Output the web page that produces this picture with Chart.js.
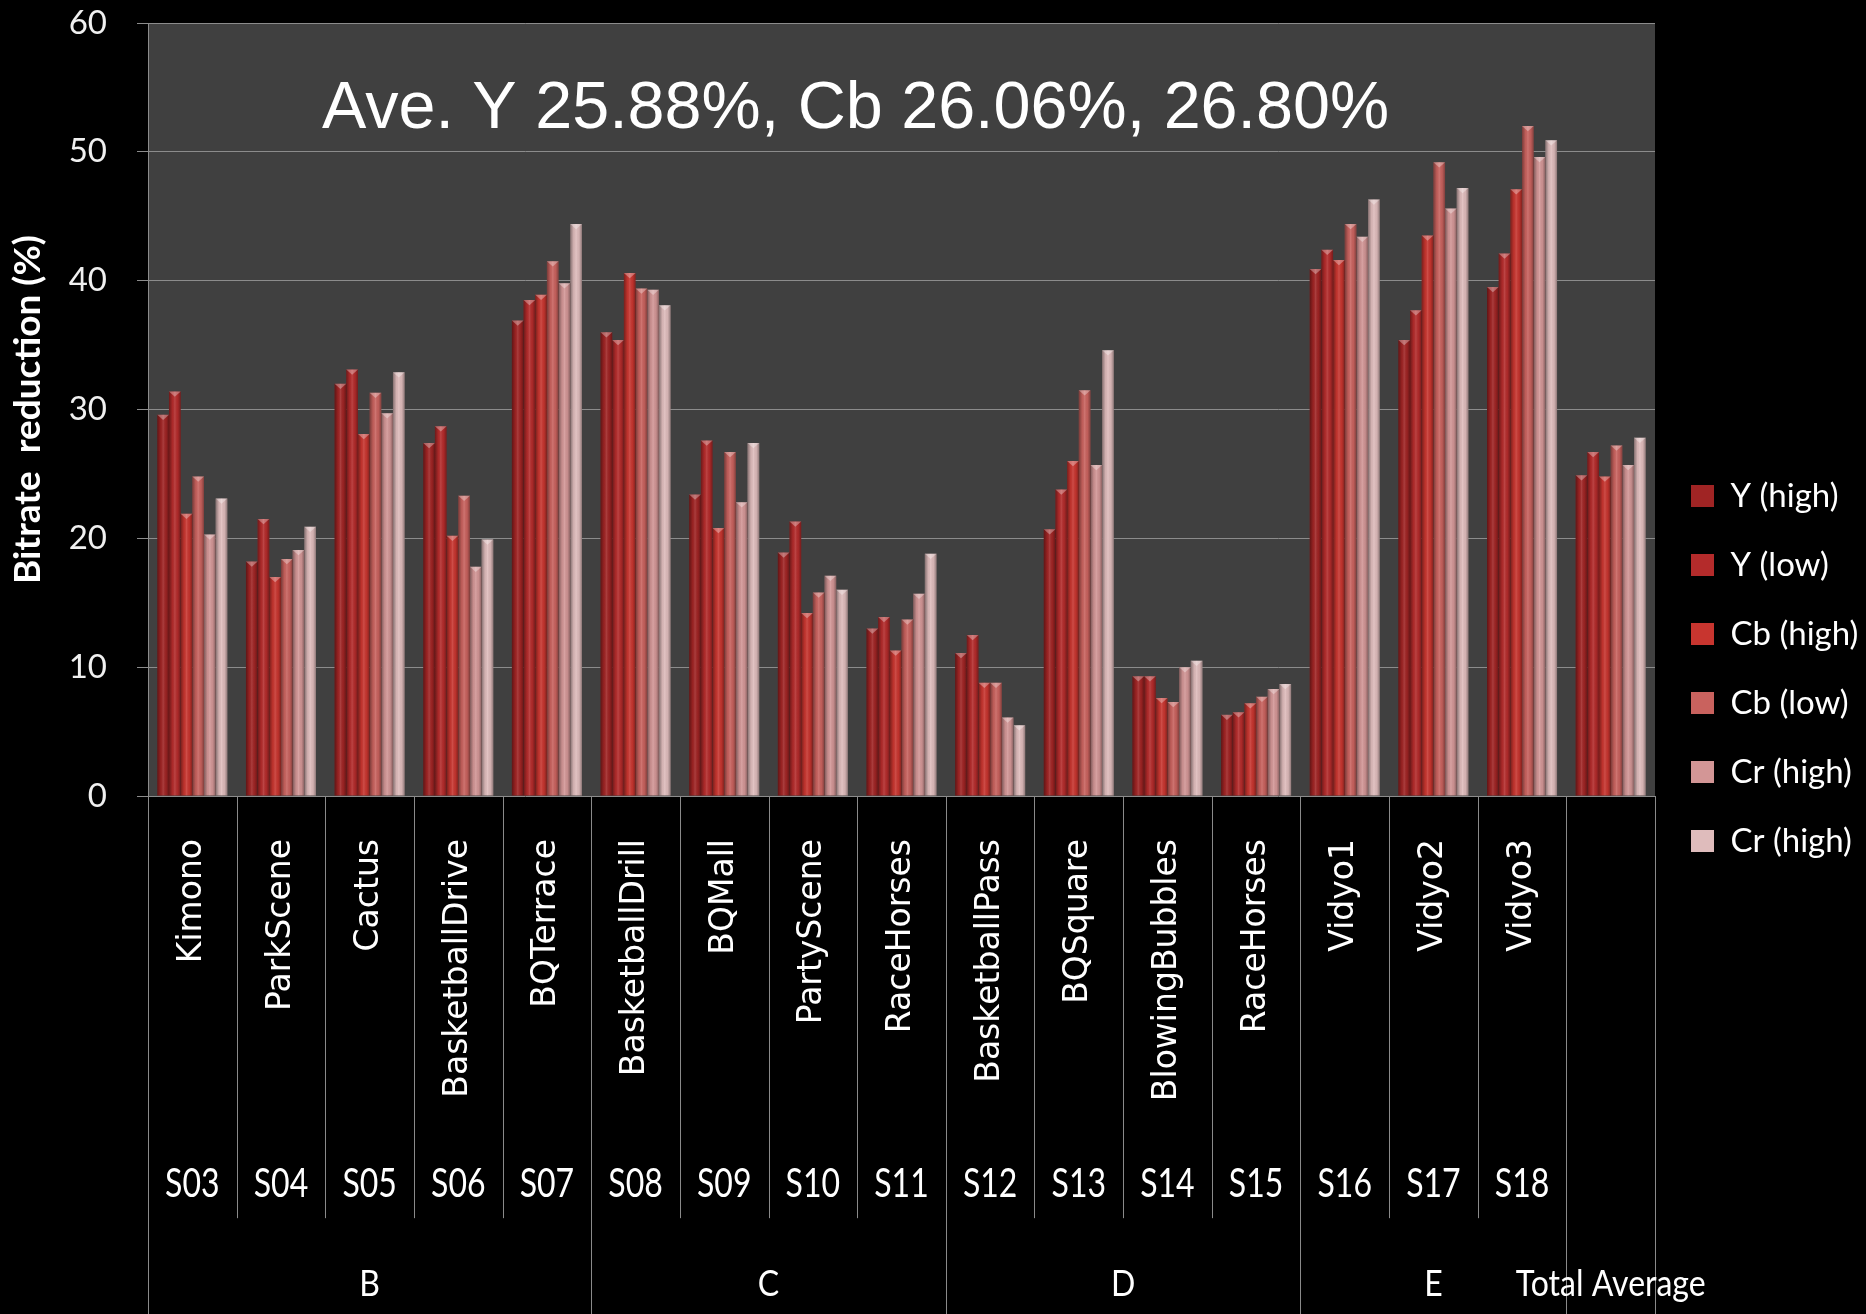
<!DOCTYPE html>
<html><head><meta charset="utf-8">
<script src="https://cdn.jsdelivr.net/npm/chart.js@4.4.0/dist/chart.umd.min.js"></script>
<style>html,body{margin:0;padding:0;background:#000;overflow:hidden}canvas{display:block}</style>
</head><body>
<canvas id="c" width="1866" height="1314"></canvas>
<script>
// ---------- DATA ----------
const sequenceNames = ['Kimono','ParkScene','Cactus','BasketballDrive','BQTerrace','BasketballDrill','BQMall','PartyScene','RaceHorses','BasketballPass','BQSquare','BlowingBubbles','RaceHorses','Vidyo1','Vidyo2','Vidyo3',''];
const sequenceCodes = ['S03','S04','S05','S06','S07','S08','S09','S10','S11','S12','S13','S14','S15','S16','S17','S18',''];
const classGroups = ['B','C','D','E','Total Average'];
const classSpans = [5,4,4,3,1];
const seriesNames = ['Y (high)','Y (low)','Cb (high)','Cb (low)','Cr (high)','Cr (high)'];
const yHigh   = [29.6,18.2,32.0,27.4,36.9,36.0,23.4,18.9,13.0,11.1,20.7, 9.3,6.3,40.9,35.4,39.5,24.9];
const yLow    = [31.4,21.5,33.1,28.7,38.5,35.4,27.6,21.3,13.9,12.5,23.8, 9.3,6.5,42.4,37.7,42.1,26.7];
const cbHigh  = [21.9,17.0,28.1,20.2,38.9,40.6,20.8,14.2,11.3, 8.8,26.0, 7.6,7.2,41.6,43.5,47.1,24.8];
const cbLow   = [24.8,18.4,31.3,23.3,41.5,39.4,26.7,15.8,13.7, 8.8,31.5, 7.3,7.7,44.4,49.2,52.0,27.2];
const crHigh  = [20.3,19.1,29.7,17.8,39.8,39.3,22.8,17.1,15.7, 6.1,25.7,10.0,8.3,43.4,45.6,49.6,25.7];
const crHigh2 = [23.1,20.9,32.9,19.9,44.4,38.1,27.4,16.0,18.8, 5.5,34.6,10.5,8.7,46.3,47.2,50.9,27.8];
const yTickMin = 0, yTickMax = 60, yTickStep = 10;
const chartTitle = 'Ave. Y 25.88%, Cb 26.06%, 26.80%';
const yAxisTitle = 'Bitrate  reduction (%)';
const seriesColors = ['#a02424','#b42b2b','#c8352f','#c9625e','#d39696','#dfbcbc'];

// ---------- PLUGINS ----------
const plotBg = {
  id: 'plotBg',
  beforeDraw(chart) {
    const {ctx, chartArea: a} = chart;
    ctx.save();
    ctx.fillStyle = '#000';
    ctx.fillRect(0, 0, chart.width, chart.height);
    ctx.fillStyle = '#404040';
    ctx.fillRect(a.left, a.top, a.right - a.left, a.bottom - a.top);
    ctx.restore();
  }
};

const barShade = {
  id: 'barShade',
  afterDatasetsDraw(chart) {
    const ctx = chart.ctx;
    ctx.save();
    chart.data.datasets.forEach((ds, di) => {
      const meta = chart.getDatasetMeta(di);
      meta.data.forEach(el => {
        const p = el.getProps(['x','y','base','width'], true);
        const l = p.x - p.width/2, r = p.x + p.width/2;
        const g = ctx.createLinearGradient(l, 0, r, 0);
        g.addColorStop(0, 'rgba(0,0,0,0.40)');
        g.addColorStop(0.3, 'rgba(0,0,0,0.05)');
        g.addColorStop(0.5, 'rgba(255,255,255,0.12)');
        g.addColorStop(0.75, 'rgba(0,0,0,0.05)');
        g.addColorStop(1, 'rgba(0,0,0,0.35)');
        ctx.fillStyle = g;
        ctx.fillRect(l, p.y, p.width, p.base - p.y);
        ctx.beginPath();
        ctx.moveTo(l, p.y);
        ctx.lineTo(r, p.y);
        ctx.lineTo(p.x, p.y + p.width*0.45);
        ctx.closePath();
        ctx.fillStyle = 'rgba(255,255,255,0.32)';
        ctx.fill();
      });
    });
    ctx.restore();
  }
};

const plotTitle = {
  id: 'plotTitle',
  afterDatasetsDraw(chart) {
    const {ctx, chartArea: a} = chart;
    ctx.save();
    ctx.font = '66.5px "Liberation Sans", Arial, sans-serif';
    ctx.fillStyle = '#ffffff';
    ctx.textAlign = 'left';
    ctx.textBaseline = 'alphabetic';
    ctx.fillText(chartTitle, a.left + 174, a.top + 105);
    ctx.restore();
  }
};

const multiLevelX = {
  id: 'multiLevelX',
  afterDraw(chart) {
    const ctx = chart.ctx;
    const xs = chart.scales.x;
    const n = chart.data.labels.length;
    const centers = [];
    for (let i = 0; i < n; i++) centers.push(xs.getPixelForValue(i));
    const half = (centers[1] - centers[0]) / 2;
    const bound = i => (i === n ? centers[n-1] + half : centers[i] - half);
    const top = chart.chartArea.bottom;
    const axisH = chart.height - top;
    const starts = new Set([0]);
    let acc = 0;
    classSpans.forEach(s => { acc += s; starts.add(acc); });

    ctx.save();
    ctx.strokeStyle = '#8a8a8a';
    ctx.lineWidth = 1;
    for (let i = 0; i <= n; i++) {
      const x = Math.round(bound(i)) + 0.5;
      const y2 = starts.has(i) ? chart.height : top + axisH * 0.815;
      ctx.beginPath();
      ctx.moveTo(x, top);
      ctx.lineTo(x, y2);
      ctx.stroke();
    }
    ctx.fillStyle = '#ffffff';
    ctx.font = '33px "DejaVu Sans", Verdana, sans-serif';
    ctx.textAlign = 'right';
    ctx.textBaseline = 'middle';
    sequenceNames.forEach((name, i) => {
      if (!name) return;
      ctx.save();
      ctx.translate(centers[i], top + 43);
      ctx.rotate(-Math.PI / 2);
      ctx.fillText(name, 0, 0);
      ctx.restore();
    });
    ctx.font = '32px Lato, "Open Sans", sans-serif';
    ctx.textAlign = 'center';
    sequenceCodes.forEach((code, i) => {
      if (!code) return;
      ctx.save();
      ctx.translate(centers[i], top + 388);
      ctx.scale(1, 1.25);
      ctx.fillText(code, 0, 0);
      ctx.restore();
    });
    let s = 0;
    classGroups.forEach((g, k) => {
      const e = s + classSpans[k];
      const cx = (bound(s) + bound(e)) / 2;
      ctx.save();
      ctx.translate(cx, top + 488);
      ctx.scale(1, 1.12);
      ctx.fillText(g, 0, 0);
      ctx.restore();
      s = e;
    });
    ctx.restore();
  }
};

// ---------- CHART ----------
const seriesData = [yHigh, yLow, cbHigh, cbLow, crHigh, crHigh2];
new Chart(document.getElementById('c'), {
  type: 'bar',
  data: {
    labels: sequenceCodes.map((c, i) => c || classGroups[classGroups.length - 1]),
    datasets: seriesData.map((d, i) => ({
      label: seriesNames[i],
      data: d,
      backgroundColor: seriesColors[i],
      borderWidth: 0,
      categoryPercentage: 0.79,
      barPercentage: 1.0
    }))
  },
  options: {
    responsive: false,
    animation: false,
    devicePixelRatio: 1,
    layout: { padding: { top: 23, right: 0, bottom: 0, left: 0 } },
    plugins: {
      tooltip: { enabled: false },
      title: { display: false },
      legend: {
        display: true,
        position: 'right',
        maxWidth: 211,
        labels: {
          color: '#ffffff',
          font: { family: 'Lato', size: 33 },
          boxWidth: 23,
          boxHeight: 22,
          padding: 36
        }
      }
    },
    scales: {
      x: {
        grid: { display: false },
        border: { display: false },
        ticks: { display: false },
        afterFit(scale) { scale.height = 518; scale.paddingLeft = 0; scale.paddingRight = 0; }
      },
      y: {
        min: yTickMin,
        max: yTickMax,
        ticks: {
          stepSize: yTickStep,
          color: '#f0f0f0',
          font: { family: 'Lato', size: 33 },
          padding: 30
        },
        grid: { color: '#8c8c8c', lineWidth: 1, tickLength: 11, tickColor: '#8c8c8c' },
        border: { display: true, color: '#8c8c8c' },
        title: {
          display: true,
          text: yAxisTitle,
          color: '#ffffff',
          font: { family: 'Lato', size: 37, weight: 'bold' },
          padding: { top: 6, bottom: 0 }
        },
        afterFit(scale) { scale.width = 148; scale.paddingTop = 0; scale.paddingBottom = 0; }
      }
    }
  },
  plugins: [plotBg, barShade, plotTitle, multiLevelX]
});
</script>
</body></html>
